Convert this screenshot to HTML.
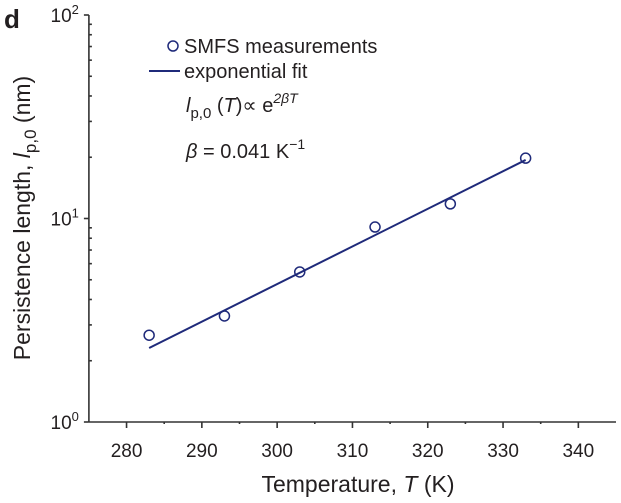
<!DOCTYPE html>
<html><head><meta charset="utf-8"><style>
body{margin:0;background:#fff;}
svg text{font-family:"Liberation Sans",Arial,sans-serif;fill:#231f20;}
</style></head><body>
<svg id="chart" width="621" height="498" viewBox="0 0 621 498">
<text x="4" y="28" font-size="26" font-weight="bold">d</text>
<g id="axes" stroke="#333" stroke-width="1.6" fill="none"></g>
<g id="labels"></g>
<text transform="translate(30,218) rotate(-90)" text-anchor="middle" font-size="23">Persistence length, <tspan font-style="italic">l</tspan><tspan font-size="17" dy="6">p,0</tspan><tspan dy="-6"> (nm)</tspan></text>
<text x="358" y="492" text-anchor="middle" font-size="23">Temperature, <tspan font-style="italic">T</tspan> (K)</text>
<g id="series"></g>
<g>
<circle cx="173" cy="46" r="5" fill="none" stroke="#1f2a7a" stroke-width="1.5"/>
<text x="184" y="53" font-size="20">SMFS measurements</text>
<line x1="149" y1="71" x2="180" y2="71" stroke="#1f2a7a" stroke-width="2"/>
<text x="184" y="78" font-size="20">exponential fit</text>
<text x="186" y="112" font-size="20"><tspan font-style="italic">l</tspan><tspan font-size="15" dy="6">p,0</tspan><tspan dy="-6"> (</tspan><tspan font-style="italic">T</tspan>)∝ e<tspan font-size="14" dy="-9" font-style="italic">2βT</tspan></text>
<text x="186" y="158" font-size="20"><tspan font-style="italic">β</tspan> = 0.041 K<tspan font-size="14" dy="-9">−1</tspan></text>
</g>
</svg>
<script>
const temps=[283,293,303,313,323,333];
const lengths=[2.67,3.32,5.46,9.08,11.8,19.8];
const fitT=[283,333];
const fitL=[2.31,19.4];
const xTicks=[280,290,300,310,320,330,340];
const yTickExps=[0,1,2];
const NS="http://www.w3.org/2000/svg";
const X0=88.9,X1=616,Y0=422,Y1=15;
const xmin=275,xmax=345;
function sx(t){return X0+(t-xmin)/(xmax-xmin)*(X1-X0);}
function sy(v){return Y0-Math.log10(v)/2*(Y0-Y1);}
function mk(tag,attrs,parent){const e=document.createElementNS(NS,tag);for(const k in attrs)e.setAttribute(k,attrs[k]);parent.appendChild(e);return e;}
const axes=document.getElementById('axes'),labels=document.getElementById('labels'),series=document.getElementById('series');
let a=mk('line',{x1:X0,y1:Y0,x2:X1,y2:Y0},axes);


a=mk('line',{x1:X0,y1:Y0,x2:X0,y2:Y1},axes);


for(let t=xmin+5;t<xmax;t+=5){const major=t%10===0;mk('line',{x1:sx(t),y1:Y0,x2:sx(t),y2:Y0+(major?6:2)},axes);}
xTicks.forEach(t=>{const e=mk('text',{x:sx(t),y:Y0+35,'text-anchor':'middle','font-size':19},labels);e.textContent=t;

});
yTickExps.forEach(p=>{const y=sy(Math.pow(10,p));mk('line',{x1:X0-5,y1:y,x2:X0,y2:y},axes);
const e=mk('text',{x:X0-10,y:y+7,'text-anchor':'end','font-size':19},labels);e.innerHTML='10<tspan font-size="13" dy="-8">'+p+'</tspan>';


if(p<2)for(let m=2;m<10;m++){const yy=sy(m*Math.pow(10,p));mk('line',{x1:X0,y1:yy,x2:X0+3,y2:yy},axes);}});
const fl=mk('line',{x1:sx(fitT[0]),y1:sy(fitL[0]),x2:sx(fitT[1]),y2:sy(fitL[1]),stroke:'#1f2a7a','stroke-width':2},series);


temps.forEach((t,i)=>{const c=mk('circle',{cx:sx(t),cy:sy(lengths[i]),r:5,fill:'none',stroke:'#1f2a7a','stroke-width':1.5},series);

});
</script>
</body></html>
